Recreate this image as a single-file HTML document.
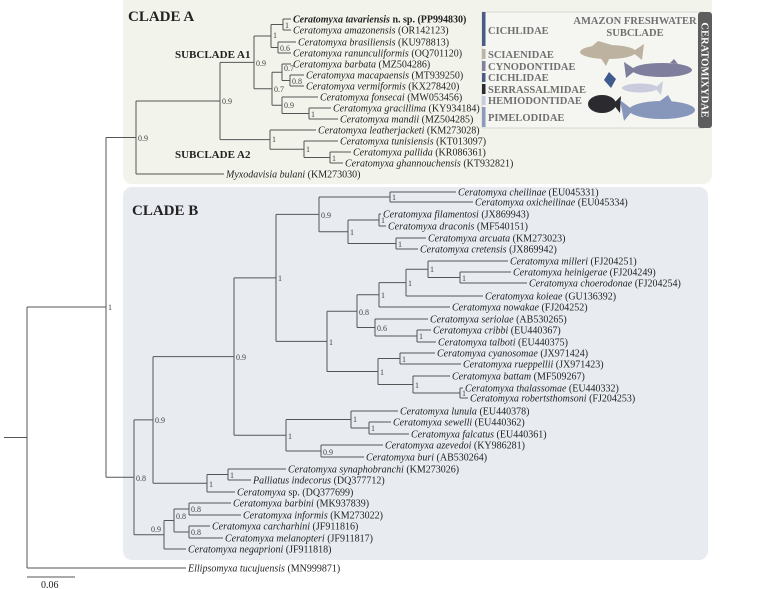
<!DOCTYPE html>
<html><head><meta charset="utf-8"><style>
html,body{margin:0;padding:0;background:#fff;}
svg{display:block;}
.t{font-family:"Liberation Serif",serif;font-size:10px;fill:#222;}
.i{font-style:italic;}
.n{font-family:"Liberation Serif",serif;font-size:8px;fill:#444;}
.h{font-family:"Liberation Serif",serif;font-weight:bold;fill:#222;}
.lg{font-family:"Liberation Serif",serif;font-weight:bold;font-size:10.5px;fill:#707070;}
path.l{stroke:#555;stroke-width:1;fill:none;}
</style></head><body>
<svg width="759" height="589" viewBox="0 0 759 589" xmlns="http://www.w3.org/2000/svg">
<rect x="123" y="-10" width="589" height="194" rx="9" fill="#f2f4ec"/>
<rect x="123" y="187" width="585" height="373" rx="9" fill="#e8ecf1"/>

<!-- legend -->
<rect x="482" y="12" width="222" height="116" fill="#f5f6f2" stroke="#d8d8d8" stroke-width="1"/>
<rect x="698" y="12" width="14" height="116" rx="3" fill="#5d5d5d"/>
<text transform="translate(701.5,70) rotate(90)" text-anchor="middle" font-family="Liberation Serif,serif" font-weight="bold" font-size="10.5" fill="#fff">CERATOMIXYDAE</text>
<rect x="482" y="12" width="3.5" height="34" fill="#4a5b85"/>
<rect x="482" y="49" width="3.5" height="10" fill="#bdb3a2"/>
<rect x="482" y="61" width="3.5" height="10" fill="#807f9c"/>
<rect x="482" y="73" width="3.5" height="9" fill="#4a5b85"/>
<rect x="482" y="84" width="3.5" height="10" fill="#2d2b2e"/>
<rect x="482" y="96" width="3.5" height="9" fill="#c8cbdb"/>
<rect x="482" y="107" width="3.5" height="20" fill="#8c9bbd"/>
<text class="lg" x="488" y="34">CICHLIDAE</text>
<text class="lg" x="488" y="58">SCIAENIDAE</text>
<text class="lg" x="488" y="70">CYNODONTIDAE</text>
<text class="lg" x="488" y="81">CICHLIDAE</text>
<text class="lg" x="488" y="93">SERRASSALMIDAE</text>
<text class="lg" x="488" y="104">HEMIODONTIDAE</text>
<text class="lg" x="488" y="121">PIMELODIDAE</text>
<text class="lg" x="635" y="24" text-anchor="middle">AMAZON FRESHWATER</text>
<text class="lg" x="635" y="36" text-anchor="middle">SUBCLADE</text>
<!-- fish -->
<g>
<ellipse cx="608" cy="52" rx="28" ry="7" fill="#bdb2a0"/>
<path d="M592 46 L598 41 L612 45 Z M632 52 L644 44 L642 60 Z M600 57 L606 66 L610 57 Z" fill="#bdb2a0"/>
<ellipse cx="662" cy="70" rx="30" ry="7" fill="#7f7e9d"/>
<path d="M636 70 L624 62 L626 78 Z M670 63 L674 59 L678 64 Z" fill="#7f7e9d"/>
<path d="M609 72 L616 79 L611 88 L604 80 Z" fill="#3f5a8c"/>
<ellipse cx="640" cy="88" rx="18" ry="4.5" fill="#c9ccdc"/>
<path d="M655 88 L663 81 L661 95 Z" fill="#c9ccdc"/>
<ellipse cx="602" cy="104" rx="14" ry="9" fill="#2b2a2e"/>
<path d="M613 104 L621 96 L620 113 Z" fill="#2b2a2e"/>
<ellipse cx="662" cy="110" rx="33" ry="9" fill="#8797bc"/>
<path d="M633 110 L620 100 L624 121 Z M660 101 L668 95 L672 102 Z" fill="#8797bc"/>
</g>

<text class="h" x="128" y="21" font-size="15">CLADE A</text>
<text class="h" x="175" y="58" font-size="11">SUBCLADE A1</text>
<text class="h" x="175" y="158" font-size="11">SUBCLADE A2</text>
<text class="h" x="132" y="215" font-size="15">CLADE B</text>

<!-- branches -->
<path class="l" d="
M4 437.5H27 M27 307V568 M27 307H106 M27 568H186
M106 137.5V477.3 M106 137.5H136 M106 477.3H134
M136 101V174 M136 101H220 M136 174H224
M220 62.4V139.6 M220 62.4H254 M220 139.6H270
M254 36V88.75 M254 36H271 M254 88.75H272
M271 24.5V47.5 M271 24.5H283 M271 47.5H278
M283 19V30 M283 19H291 M283 30H291
M278 42V53 M278 42H296 M278 53H291
M272 72.25V105.25 M272 72.25H282 M272 105.25H282
M282 64V80.5 M282 64H291 M282 80.5H290
M290 75V86 M290 75H304 M290 86H304
M282 97V113.5 M282 97H318 M282 113.5H309
M309 108V119 M309 108H331 M309 119H338
M270 130V149.25 M270 130H316 M270 149.25H304
M304 141V157.5 M304 141H338 M304 157.5H330
M330 152V163 M330 152H351 M330 163H343
M134 419.9V534.75 M134 419.9H153 M134 534.75H164
M153 356.6V483.25 M153 356.6H234 M153 483.25H207
M234 277.9V435.25 M234 277.9H276 M234 435.25H286
M276 214.4V341.4 M276 214.4H319 M276 341.4H327
M319 197V231.75 M319 197H390 M319 231.75H348
M390 192V202 M390 192H456 M390 202H473
M348 220V243.5 M348 220H379 M348 243.5H396
M379 214V226 M379 214H381 M379 226H386
M396 238V249 M396 238H426 M396 249H418
M327 311.2V371.5 M327 311.2H357 M327 371.5H378
M357 294.8V327.5 M357 294.8H379 M357 327.5H375
M379 282.6V307 M379 282.6H406 M379 307H450
M406 269.25V296 M406 269.25H428 M406 296H483
M428 261V277.5 M428 261H508 M428 277.5H460
M460 272V283 M460 272H511 M460 283H527
M375 319V336 M375 319H428 M375 336H417
M417 330V342 M417 330H431 M417 342H436
M378 358.5V384.5 M378 358.5H400 M378 384.5H413
M400 353V364 M400 353H435 M400 364H461
M413 376V393 M413 376H450 M413 393H460
M460 388V398 M460 388H463 M460 398H468
M286 419.5V451 M286 419.5H351 M286 451H321
M351 411V428 M351 411H398 M351 428H369
M369 422V434 M369 422H391 M369 434H409
M321 445V457 M321 445H383 M321 457H364
M207 474.5V492 M207 474.5H228 M207 492H235
M228 469V480 M228 469H286 M228 480H251
M164 520.5V549 M164 520.5H174 M164 549H186
M174 509V532 M174 509H189 M174 532H189
M189 503V515 M189 503H231 M189 515H241
M189 526V538 M189 526H210 M189 538H223
M27 577H75
"/>

<!-- node labels -->
<g class="n">
<text x="108" y="310">1</text>
<text x="138" y="141">0.9</text>
<text x="222" y="104">0.9</text>
<text x="256" y="66">0.9</text>
<text x="273" y="38">1</text>
<text x="285" y="28">1</text>
<text x="280" y="51">0.6</text>
<text x="274" y="92">0.7</text>
<text x="284" y="71">0.7</text>
<text x="292" y="84">0.8</text>
<text x="284" y="108">0.9</text>
<text x="311" y="117">1</text>
<text x="272" y="142">1</text>
<text x="306" y="152">1</text>
<text x="332" y="161">1</text>
<text x="136" y="481">0.8</text>
<text x="155" y="423">0.9</text>
<text x="236" y="360">0.9</text>
<text x="278" y="281">1</text>
<text x="321" y="218">0.9</text>
<text x="392" y="200">1</text>
<text x="350" y="235">1</text>
<text x="381" y="223">1</text>
<text x="398" y="247">1</text>
<text x="329" y="345">1</text>
<text x="359" y="315">0.8</text>
<text x="381" y="298">1</text>
<text x="408" y="286">1</text>
<text x="430" y="272">1</text>
<text x="462" y="281">1</text>
<text x="377" y="331">0.6</text>
<text x="419" y="339">1</text>
<text x="380" y="375">1</text>
<text x="402" y="362">1</text>
<text x="415" y="388">1</text>
<text x="462" y="396">1</text>
<text x="288" y="439">1</text>
<text x="353" y="422">1</text>
<text x="371" y="431">1</text>
<text x="323" y="455">0.9</text>
<text x="209" y="487">1</text>
<text x="230" y="478">1</text>
<text x="151" y="532">0.9</text>
<text x="176" y="519">0.8</text>
<text x="191" y="512">0.8</text>
<text x="191" y="535">0.8</text>
</g>

<!-- tip labels -->
<g class="t">
<text x="293" y="22.5" font-weight="bold"><tspan class="i">Ceratomyxa tavariensis</tspan> n. sp. (PP994830)</text>
<text x="293" y="33.5"><tspan class="i">Ceratomyxa amazonensis</tspan> (OR142123)</text>
<text x="298" y="45.5"><tspan class="i">Ceratomyxa brasiliensis</tspan> (KU978813)</text>
<text x="293" y="56.5"><tspan class="i">Ceratomyxa  ranunculiformis</tspan> (OQ701120)</text>
<text x="293" y="67.5"><tspan class="i">Ceratomyxa barbata</tspan> (MZ504286)</text>
<text x="306" y="78.5"><tspan class="i">Ceratomyxa macapaensis</tspan> (MT939250)</text>
<text x="306" y="89.5"><tspan class="i">Ceratomyxa vermiformis</tspan> (KX278420)</text>
<text x="320" y="100.5"><tspan class="i">Ceratomyxa fonsecai</tspan> (MW053456)</text>
<text x="333" y="111.5"><tspan class="i">Ceratomyxa gracillima</tspan> (KY934184)</text>
<text x="340" y="122.5"><tspan class="i">Ceratomyxa mandii</tspan> (MZ504285)</text>
<text x="318" y="133.5"><tspan class="i">Ceratomyxa leatherjacketi</tspan> (KM273028)</text>
<text x="340" y="144.5"><tspan class="i">Ceratomyxa tunisiensis</tspan> (KT013097)</text>
<text x="353" y="155.5"><tspan class="i">Ceratomyxa pallida</tspan> (KR086361)</text>
<text x="345" y="166.5"><tspan class="i">Ceratomyxa ghannouchensis</tspan> (KT932821)</text>
<text x="226" y="177.5"><tspan class="i">Myxodavisia bulani</tspan> (KM273030)</text>

<text x="458" y="195.5"><tspan class="i">Ceratomyxa cheilinae</tspan> (EU045331)</text>
<text x="475" y="205.5"><tspan class="i">Ceratomyxa oxicheilinae</tspan> (EU045334)</text>
<text x="383" y="217.5"><tspan class="i">Ceratomyxa filamentosi</tspan> (JX869943)</text>
<text x="388" y="229.5"><tspan class="i">Ceratomyxa draconis</tspan> (MF540151)</text>
<text x="428" y="241.5"><tspan class="i">Ceratomyxa arcuata</tspan> (KM273023)</text>
<text x="420" y="252.5"><tspan class="i">Ceratomyxa cretensis</tspan> (JX869942)</text>
<text x="510" y="264.5"><tspan class="i">Ceratomyxa milleri</tspan> (FJ204251)</text>
<text x="513" y="275.5"><tspan class="i">Ceratomyxa heinigerae</tspan> (FJ204249)</text>
<text x="529" y="286.5"><tspan class="i">Ceratomyxa choerodonae</tspan> (FJ204254)</text>
<text x="485" y="299.5"><tspan class="i">Ceratomyxa koieae</tspan> (GU136392)</text>
<text x="452" y="310.5"><tspan class="i">Ceratomyxa nowakae</tspan> (FJ204252)</text>
<text x="430" y="322.5"><tspan class="i">Ceratomyxa seriolae</tspan> (AB530265)</text>
<text x="433" y="333.5"><tspan class="i">Ceratomyxa cribbi</tspan> (EU440367)</text>
<text x="438" y="345.5"><tspan class="i">Ceratomyxa talboti</tspan> (EU440375)</text>
<text x="437" y="356.5"><tspan class="i">Ceratomyxa cyanosomae</tspan> (JX971424)</text>
<text x="463" y="367.5"><tspan class="i">Ceratomyxa rueppellii</tspan> (JX971423)</text>
<text x="452" y="379.5"><tspan class="i">Ceratomyxa battam</tspan> (MF509267)</text>
<text x="465" y="391.5"><tspan class="i">Ceratomyxa thalassomae</tspan> (EU440332)</text>
<text x="470" y="401.5"><tspan class="i">Ceratomyxa robertsthomsoni</tspan> (FJ204253)</text>
<text x="400" y="414.5"><tspan class="i">Ceratomyxa lunula</tspan> (EU440378)</text>
<text x="393" y="425.5"><tspan class="i">Ceratomyxa sewelli</tspan> (EU440362)</text>
<text x="411" y="437.5"><tspan class="i">Ceratomyxa falcatus</tspan> (EU440361)</text>
<text x="385" y="448.5"><tspan class="i">Ceratomyxa azevedoi</tspan> (KY986281)</text>
<text x="366" y="460.5"><tspan class="i">Ceratomyxa buri</tspan> (AB530264)</text>
<text x="288" y="472.5"><tspan class="i">Ceratomyxa synaphobranchi</tspan> (KM273026)</text>
<text x="253" y="483.5"><tspan class="i">Palliatus indecorus</tspan> (DQ377712)</text>
<text x="237" y="495.5"><tspan class="i">Ceratomyxa</tspan> sp. (DQ377699)</text>
<text x="233" y="506.5"><tspan class="i">Ceratomyxa barbini</tspan> (MK937839)</text>
<text x="243" y="518.5"><tspan class="i">Ceratomyxa informis</tspan> (KM273022)</text>
<text x="212" y="529.5"><tspan class="i">Ceratomyxa carcharhini</tspan> (JF911816)</text>
<text x="225" y="541.5"><tspan class="i">Ceratomyxa melanopteri</tspan> (JF911817)</text>
<text x="188" y="552.5"><tspan class="i">Ceratomyxa negaprioni</tspan> (JF911818)</text>
<text x="188" y="571.5"><tspan class="i">Ellipsomyxa tucujuensis</tspan> (MN999871)</text>
<text x="41" y="588">0.06</text>
</g>
</svg>
</body></html>
